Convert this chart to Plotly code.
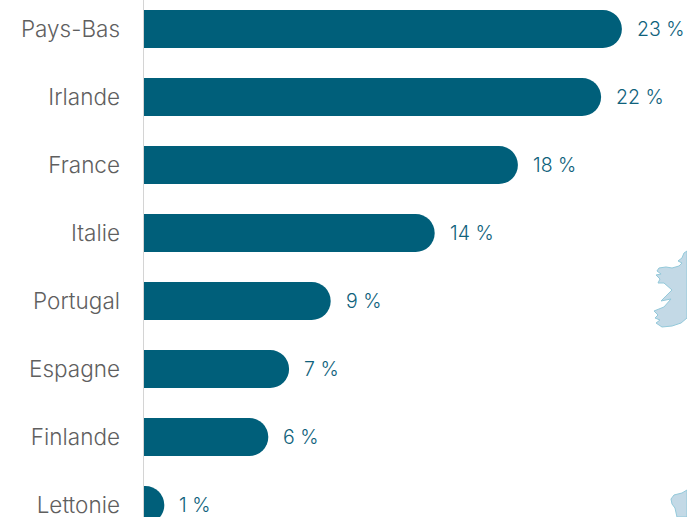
import plotly.graph_objects as go

countries = ["Pays-Bas", "Irlande", "France", "Italie", "Portugal", "Espagne", "Finlande", "Lettonie"]
shares = [23, 22, 18, 14, 9, 7, 6, 1]
value_labels = ["23 %", "22 %", "18 %", "14 %", "9 %", "7 %", "6 %", "1 %"]

BAR_COLOR = "#005f7a"
VALUE_COLOR = "#0f627c"
LABEL_COLOR = "#5f5f5f"
FONT = "Inter"
WIDTH, HEIGHT = 687, 517

# Outlines of Ireland and of the tip of the next landmass, in page pixels
ireland = [(687, 251), (684, 253), (682, 258), (678, 261), (682, 263), (679, 266), (672, 268), (666, 267),
           (659, 268), (657, 271), (661, 274), (656, 275), (660, 279), (658, 283), (664, 283), (672, 290),
           (666, 296), (661, 301), (671, 299), (664, 307), (654, 311), (658, 315), (655, 318), (660, 320),
           (656, 323), (662, 327), (672, 326), (681, 323), (687, 318)]
southern_tip = [(687, 490), (682, 493), (674, 495), (671, 499), (672, 504), (675, 508), (677, 517), (687, 517)]


def outline_path(points):
    coords = [f"{x / WIDTH:.4f},{1 - y / HEIGHT:.4f}" for x, y in points]
    return "M" + " L".join(coords) + " Z"


land_shapes = [
    dict(type="path", xref="paper", yref="paper", path=outline_path(p), fillcolor="#c3d9e6",
         line=dict(color="#93c9da", width=1), layer="below")
    for p in (ireland, southern_tip)
]

fig = go.Figure(
    go.Bar(
        x=shares,
        y=countries,
        orientation="h",
        marker=dict(color=BAR_COLOR, line=dict(width=0)),
        hoverinfo="skip",
    )
)

for country, share, label in zip(countries, shares, value_labels):
    fig.add_annotation(
        x=share, y=country, text=label, showarrow=False, xanchor="left", xshift=13,
        font=dict(family=FONT, size=19.5, weight=300, color=VALUE_COLOR),
    )

fig.update_layout(
    width=WIDTH,
    height=HEIGHT,
    margin=dict(l=0, r=0, t=0, b=0),
    paper_bgcolor="white",
    plot_bgcolor="rgba(0,0,0,0)",
    bargap=0.44,
    barcornerradius=19,
    showlegend=False,
    shapes=land_shapes,
    xaxis=dict(domain=[143.5 / WIDTH, 1], range=[0, 543.5 / 20.8], visible=False, fixedrange=True),
    yaxis=dict(
        categoryorder="array",
        categoryarray=countries,
        range=[488 / 68, -29 / 68],
        showgrid=False,
        ticks="",
        ticklabelstandoff=18,
        tickfont=dict(family=FONT, size=22.5, weight=300, color=LABEL_COLOR),
        showline=True,
        linecolor="#d4d4d4",
        linewidth=1,
        zeroline=False,
        fixedrange=True,
    ),
)

fig.write_html("out.html", config={"displayModeBar": False})
